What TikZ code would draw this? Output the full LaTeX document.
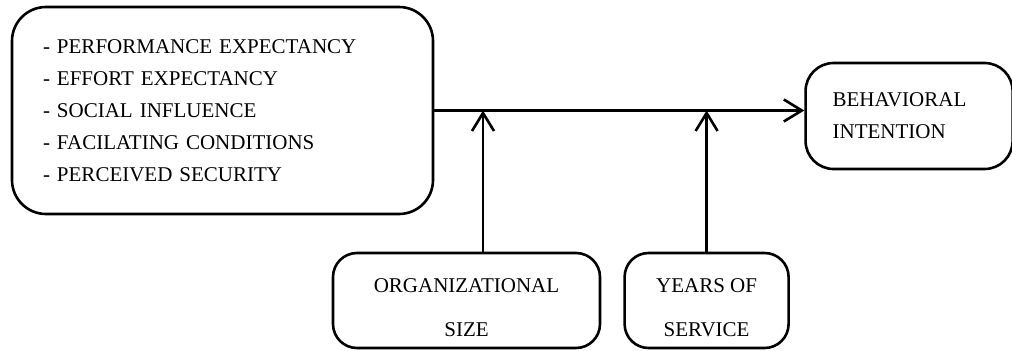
\documentclass[tikz,border=0pt]{standalone}
\usepackage{fontspec}
\setmainfont{Liberation Serif}
\usepackage{tikz}
\usetikzlibrary{arrows.meta,positioning}

\begin{document}
\begin{tikzpicture}[every node/.style={font=\fontsize{10.5}{16}\selectfont}, line width=1.3pt,
				bx/.style={draw, rounded corners=12pt, inner xsep=0pt},
				arr/.style={-{Straight Barb[length=9pt, width=11pt]}}]
				\useasboundingbox (0,0) rectangle (506pt,175pt);
				\node[bx, rounded corners=17pt, text width=179.5pt, align=left, minimum width=210.5pt, minimum height=103.5pt] (lft) at (111.25pt,119.75pt)
					{- PERFORMANCE EXPECTANCY\\- EFFORT EXPECTANCY\\- SOCIAL INFLUENCE\\- FACILATING CONDITIONS\\- PERCEIVED SECURITY};
				\node[bx, rounded corners=14pt, text width=76.5pt, align=left, minimum width=103.5pt, minimum height=53pt, right=185pt of lft, yshift=-2.75pt] (beh)
					{BEHAVIORAL\\INTENTION};
				\node[bx, align=center, minimum width=133.5pt, minimum height=47.5pt] (org) at (233.25pt,24.75pt)
					{\rule{0pt}{14pt}ORGANIZATIONAL\\[6pt]SIZE};
				\node[bx, align=center, minimum width=82pt, minimum height=47.5pt, right=11pt of org] (yrs)
					{\rule{0pt}{14pt}YEARS OF\\[6pt]SERVICE};
				\coordinate (o) at ([xshift=8.25pt]org.north);
				\draw[arr] (lft.east) -- (lft.east -| beh.west);
				\draw[arr] (o) -- (o |- lft.east);
				\draw[arr] (yrs.north) -- (yrs.north |- lft.east);
			\end{tikzpicture}
\end{document}
